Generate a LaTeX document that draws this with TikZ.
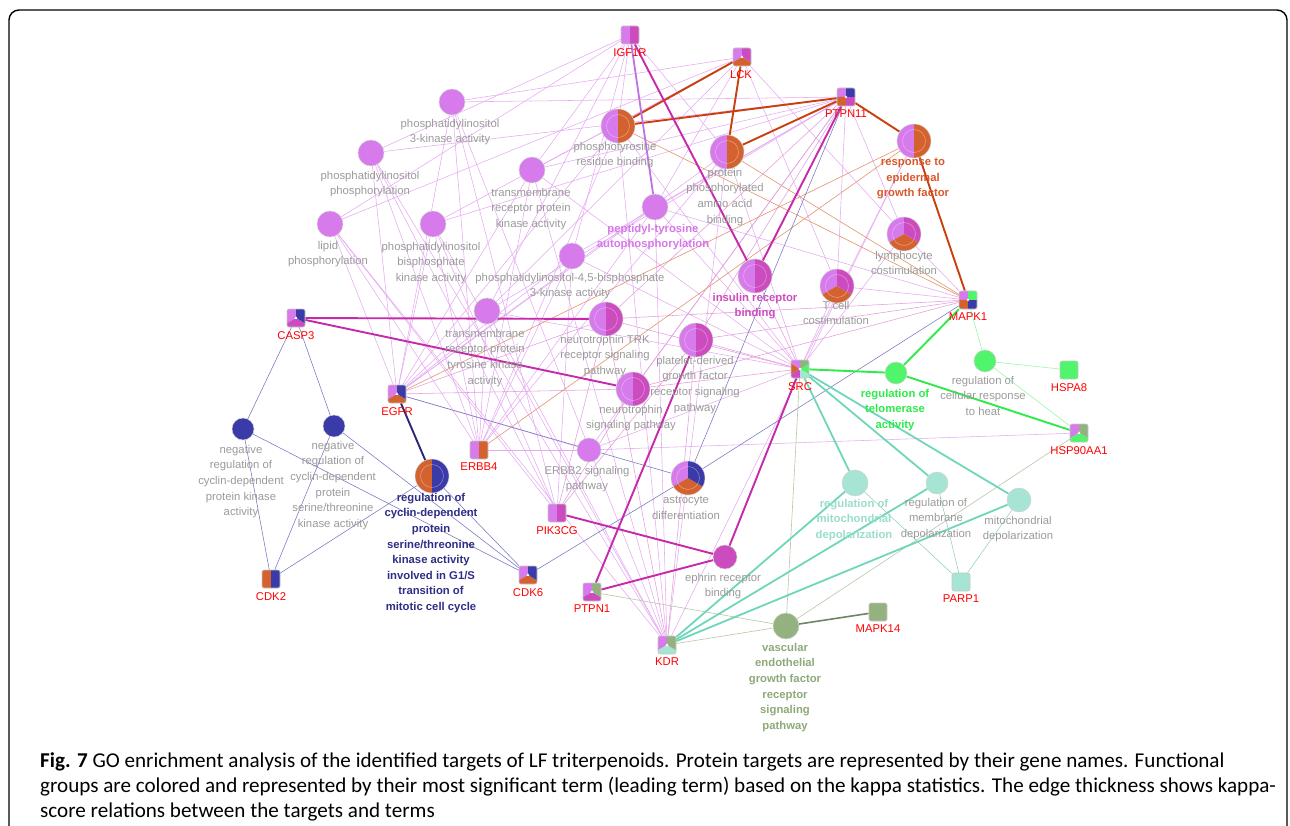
\documentclass[tikz,border=0pt]{standalone}
\usepackage{fontspec}
\setmainfont{Liberation Sans}
\newfontfamily\capfont{Carlito}
\usetikzlibrary{backgrounds}

\definecolor{purp}{HTML}{D77AEB}
\definecolor{magn}{HTML}{CC4CC0}
\definecolor{oran}{HTML}{D4622F}
\definecolor{blue}{HTML}{3A3AA8}
\definecolor{grn}{HTML}{50F56B}
\definecolor{olive}{HTML}{94B27F}
\definecolor{aqua}{HTML}{A6E5D3}
\definecolor{labgray}{HTML}{9A9A9A}
\definecolor{magthick}{HTML}{C42AAA}
\definecolor{grnthick}{HTML}{2EEA4A}
\definecolor{aqthick}{HTML}{70D6BA}
\definecolor{orthick}{HTML}{C8400E}

\tikzset{
  pie/.style 2 args={path picture={
      \foreach \c [count=\i] in {#2} {
        \pgfmathsetmacro\angA{90+(\i-1)*360/#1}
        \pgfmathsetmacro\angB{90+\i*360/#1}
        \fill[\c] (path picture bounding box.center) -- ++(\angA:40pt)
          arc[start angle=\angA, end angle=\angB, radius=40pt] -- cycle;
      }}},
  tpie/.style 2 args={path picture={
      \foreach \c [count=\i] in {#2} {
        \pgfmathsetmacro\angA{90+(\i-1)*360/#1}
        \pgfmathsetmacro\angB{90+\i*360/#1}
        \fill[\c] (path picture bounding box.center) -- ++(\angA:40pt)
          arc[start angle=\angA, end angle=\angB, radius=40pt] -- cycle;
      }
      \draw[white, opacity=.35, line width=.6pt] (path picture bounding box.center) circle[radius=11.5pt];}},
  term/.style={circle, draw=black!18, line width=.5pt, inner sep=0pt},
  gene/.style={rectangle, rounded corners=2pt, draw=black!22, line width=.6pt, minimum size=18pt, inner sep=0pt},
  tlab/.style={text=labgray, font=\fontsize{11.3}{15.6}\selectfont, align=center, inner sep=0pt, anchor=north},
  blab/.style={tlab, font=\bfseries\fontsize{11.3}{15.6}\selectfont},
  glab/.style={text=red, font=\fontsize{11.3}{13}\selectfont, inner sep=0pt, anchor=north},
  ethin/.style={draw=purp!65, line width=.55pt},
  epink/.style={draw=magn!55, line width=.55pt},
  eblue/.style={draw=blue!70, line width=.55pt},
  eorthin/.style={draw=oran!65, line width=.65pt},
  egrthin/.style={draw=grn!60, line width=.6pt},
  eaqthin/.style={draw=aqua!90!black, line width=.55pt},
  eolthin/.style={draw=olive!70, line width=.6pt},
  eorange/.style={draw=orthick, line width=1.9pt},
  emag/.style={draw=magthick, line width=1.9pt},
  epurple/.style={draw=purp!85!blue, line width=1.8pt},
  enavy/.style={draw=blue!70!black, line width=1.9pt},
  egreen/.style={draw=grnthick, line width=1.9pt},
  eaqua/.style={draw=aqthick, line width=1.8pt},
  eolive/.style={draw=olive!75!black, line width=1.6pt},
}

\begin{document}
\begin{tikzpicture}[x=1pt,y=1pt]
  \useasboundingbox (0,0) rectangle (1290,-826);
  \clip (0,0) rectangle (1290,-826);
  \draw[line width=1.4pt, rounded corners=10pt] (9,-10) rectangle (1287,-900);

  % term nodes
  \node[term, minimum size=26pt, fill=purp] (tPIK3act) at (452,-102) {};
  \node[term, minimum size=26pt, fill=purp] (tPIphos) at (371,-153) {};
  \node[term, minimum size=26pt, fill=purp] (tTMRPK) at (532,-170) {};
  \node[term, minimum size=26pt, fill=purp] (tLipid) at (330,-224) {};
  \node[term, minimum size=26pt, fill=purp] (tPIbis) at (433,-224) {};
  \node[term, minimum size=26pt, fill=purp] (tPI45) at (572,-256) {};
  \node[term, minimum size=34pt, tpie={2}{purp,oran}] (tPtyr) at (618,-126) {};
  \node[term, minimum size=34pt, tpie={2}{purp,oran}] (tPaa) at (727,-152) {};
  \node[term, minimum size=26pt, fill=purp] (tPeptyr) at (655,-207) {};
  \node[term, minimum size=34pt, tpie={2}{purp,oran}] (tEGFresp) at (914,-141) {};
  \node[term, minimum size=34pt, tpie={3}{purp,oran,magn}] (tLymph) at (904,-234) {};
  \node[term, minimum size=34pt, tpie={2}{purp,magn}] (tIRB) at (755,-276) {};
  \node[term, minimum size=34pt, tpie={3}{purp,oran,magn}] (tTcell) at (837,-286) {};
  \node[term, minimum size=26pt, fill=purp] (tTMRTK) at (487,-311) {};
  \node[term, minimum size=34pt, tpie={2}{purp,magn}] (tNTRK) at (606,-319) {};
  \node[term, minimum size=34pt, tpie={2}{purp,magn}] (tNeuro) at (633,-389) {};
  \node[term, minimum size=34pt, tpie={2}{purp,magn}] (tPDGF) at (696,-340) {};
  \node[term, minimum size=24pt, fill=purp] (tErbb2) at (589,-450) {};
  \node[term, minimum size=34pt, tpie={3}{purp,oran,blue}] (tAstro) at (688,-478) {};
  \node[term, minimum size=24pt, fill=magn] (tEphrin) at (725,-557) {};
  \node[term, minimum size=26pt, fill=olive] (tVEGF) at (786,-626) {};
  \node[term, minimum size=26pt, fill=aqua] (tMitoReg) at (855,-483) {};
  \node[term, minimum size=22pt, fill=aqua] (tMembDep) at (937,-483) {};
  \node[term, minimum size=24pt, fill=aqua] (tMitoDep) at (1019,-500) {};
  \node[term, minimum size=22pt, fill=grn] (tTelo) at (896,-373) {};
  \node[term, minimum size=22pt, fill=grn] (tHeat) at (985,-361) {};
  \node[term, minimum size=22pt, fill=blue] (tNegCDK) at (243,-429) {};
  \node[term, minimum size=22pt, fill=blue] (tNegCDKst) at (334,-426) {};
  \node[term, minimum size=34pt, tpie={2}{oran,blue}] (tCDKg1s) at (432,-476) {};

  % term labels
  \node[tlab] (lPIK3act) at (450,-119) {phosphatidylinositol\\3-kinase activity};
  \node[tlab] (lPIphos) at (370,-171) {phosphatidylinositol\\phosphorylation};
  \node[tlab] (lTMRPK) at (531,-188) {transmembrane\\receptor protein\\kinase activity};
  \node[tlab] (lLipid) at (328,-241) {lipid\\phosphorylation};
  \node[tlab] (lPIbis) at (431,-242) {phosphatidylinositol\\bisphosphate\\kinase activity};
  \node[tlab] (lPI45) at (570,-273) {phosphatidylinositol-4,5-bisphosphate\\3-kinase activity};
  \node[tlab] (lPtyr) at (615,-142) {phosphotyrosine\\residue binding};
  \node[tlab] (lPaa) at (725,-168) {protein\\phosphorylated\\amino acid\\binding};
  \node[blab, text=purp!95!magn] (lPeptyr) at (653,-224) {peptidyl-tyrosine\\autophosphorylation};
  \node[blab, text=oran!90!red] (lEGFresp) at (913,-158) {response to\\epidermal\\growth factor};
  \node[tlab] (lLymph) at (904,-251) {lymphocyte\\costimulation};
  \node[blab, text=magn] (lIRB) at (755,-293) {insulin receptor\\binding};
  \node[tlab] (lTcell) at (836,-301) {T cell\\costimulation};
  \node[tlab] (lTMRTK) at (485,-329) {transmembrane\\receptor protein\\tyrosine kinase\\activity};
  \node[tlab] (lNTRK) at (605,-335) {neurotrophin TRK\\receptor signaling\\pathway};
  \node[tlab] (lNeuro) at (631,-405) {neurotrophin\\signaling pathway};
  \node[tlab] (lPDGF) at (695,-356) {platelet-derived\\growth factor\\receptor signaling\\pathway};
  \node[tlab] (lErbb2) at (587,-466) {ERBB2 signaling\\pathway};
  \node[tlab] (lAstro) at (686,-496) {astrocyte\\differentiation};
  \node[tlab] (lEphrin) at (723,-573) {ephrin receptor\\binding};
  \node[blab, text=olive!95!black] (lVEGF) at (785,-643) {vascular\\endothelial\\growth factor\\receptor\\signaling\\pathway};
  \node[blab, text=aqua!92!teal] (lMitoReg) at (854,-499) {regulation of\\mitochondrial\\depolarization};
  \node[tlab] (lMembDep) at (936,-498) {regulation of\\membrane\\depolarization};
  \node[tlab] (lMitoDep) at (1018,-516) {mitochondrial\\depolarization};
  \node[blab, text=grnthick] (lTelo) at (895,-389) {regulation of\\telomerase\\activity};
  \node[tlab] (lHeat) at (983,-376) {regulation of\\cellular response\\to heat};
  \node[tlab] (lNegCDK) at (241,-445) {negative\\regulation of\\cyclin-dependent\\protein kinase\\activity};
  \node[tlab] (lNegCDKst) at (333,-441) {negative\\regulation of\\cyclin-dependent\\protein\\serine/threonine\\kinase activity};
  \node[blab, text=blue!80!black] (lCDKg1s) at (431,-493) {regulation of\\cyclin-dependent\\protein\\serine/threonine\\kinase activity\\involved in G1/S\\transition of\\mitotic cell cycle};

  % gene nodes
  \node[gene, pie={2}{purp,magn}] (gIGF1R) at (630,-35) {};
  \node[gene, pie={3}{purp,oran,magn}] (gLCK) at (742,-57) {};
  \node[gene, pie={4}{purp,oran,magn,blue}] (gPTPN11) at (846,-97) {};
  \node[gene, pie={4}{purp,oran,blue,grn}] (gMAPK1) at (968,-300) {};
  \node[gene, pie={3}{purp,magn,blue}] (gCASP3) at (296,-318) {};
  \node[gene, pie={3}{purp,oran,blue}] (gEGFR) at (397,-394) {};
  \node[gene, pie={2}{purp,oran}] (gERBB4) at (479,-450) {};
  \node[gene, pie={2}{purp,magn}] (gPIK3CG) at (557,-513) {};
  \node[gene, pie={2}{oran,blue}] (gCDK2) at (271,-579) {};
  \node[gene, pie={3}{purp,oran,blue}] (gCDK6) at (528,-575) {};
  \node[gene, pie={3}{purp,magn,olive}] (gPTPN1) at (592,-592) {};
  \node[gene, pie={3}{purp,aqua,olive}] (gKDR) at (667,-645) {};
  \node[gene, fill=olive] (gMAPK14) at (878,-612) {};
  \node[gene, pie={6}{purp,oran,magn,aqua,grn,olive}] (gSRC) at (800,-369) {};
  \node[gene, pie={3}{purp,grn,olive}] (gHSP90AA1) at (1079,-433) {};
  \node[gene, fill=grn] (gHSPA8) at (1069,-370) {};
  \node[gene, fill=aqua] (gPARP1) at (961,-582) {};

  % gene labels
  \node[glab] (nIGF1R) at (630,-48) {IGF1R};
  \node[glab] (nLCK) at (741,-70) {LCK};
  \node[glab] (nPTPN11) at (846,-110) {PTPN11};
  \node[glab] (nMAPK1) at (968,-313) {MAPK1};
  \node[glab] (nCASP3) at (296,-331) {CASP3};
  \node[glab] (nEGFR) at (397,-407) {EGFR};
  \node[glab] (nERBB4) at (479,-463) {ERBB4};
  \node[glab] (nPIK3CG) at (557,-526) {PIK3CG};
  \node[glab] (nCDK2) at (271,-592) {CDK2};
  \node[glab] (nCDK6) at (528,-588) {CDK6};
  \node[glab] (nPTPN1) at (592,-605) {PTPN1};
  \node[glab] (nKDR) at (667,-658) {KDR};
  \node[glab] (nMAPK14) at (878,-625) {MAPK14};
  \node[glab] (nSRC) at (800,-382) {SRC};
  \node[glab] (nHSP90AA1) at (1079,-446) {HSP90AA1};
  \node[glab] (nHSPA8) at (1069,-383) {HSPA8};
  \node[glab] (nPARP1) at (961,-595) {PARP1};

  % edges
  \begin{scope}[on background layer]
    \foreach \g in {LCK,PTPN11,EGFR,ERBB4,PIK3CG,KDR} \draw[ethin] (tPIK3act) -- (g\g);
    \foreach \g in {IGF1R,PTPN11,EGFR,ERBB4,PIK3CG,KDR} \draw[ethin] (tPIphos) -- (g\g);
    \foreach \g in {IGF1R,LCK,EGFR,ERBB4,PIK3CG,KDR} \draw[ethin] (tLipid) -- (g\g);
    \foreach \g in {LCK,PTPN11,EGFR,ERBB4,PIK3CG,KDR} \draw[ethin] (tPIbis) -- (g\g);
    \foreach \g in {IGF1R,PTPN11,EGFR,ERBB4,PIK3CG,SRC} \draw[ethin] (tPI45) -- (g\g);
    \foreach \g in {IGF1R,LCK,PTPN11,EGFR,ERBB4,KDR,SRC} \draw[ethin] (tTMRPK) -- (g\g);
    \foreach \g in {IGF1R,LCK,PTPN11,EGFR,ERBB4,KDR,SRC} \draw[ethin] (tTMRTK) -- (g\g);
    \foreach \g in {LCK,PTPN11,EGFR,ERBB4,KDR,SRC,MAPK1} \draw[ethin] (tPeptyr) -- (g\g);
    \foreach \g in {EGFR,ERBB4,PTPN11,SRC,HSP90AA1} \draw[ethin] (tErbb2) -- (g\g);
    \foreach \g in {IGF1R,EGFR,ERBB4,SRC,KDR} \draw[ethin] (tPtyr) -- (g\g);
    \foreach \g in {IGF1R,EGFR,ERBB4,SRC,KDR} \draw[ethin] (tPaa) -- (g\g);
    \foreach \g in {SRC,KDR} \draw[ethin] (tEGFresp) -- (g\g);
    \foreach \g in {LCK,PTPN11,SRC,MAPK1} \draw[ethin] (tLymph) -- (g\g);
    \foreach \g in {LCK,PTPN11,SRC,MAPK1} \draw[ethin] (tTcell) -- (g\g);
    \foreach \g in {SRC,PTPN11,MAPK1,KDR,PIK3CG,EGFR} \draw[epink] (tNTRK) -- (g\g);
    \foreach \g in {SRC,PTPN11,MAPK1,PIK3CG,EGFR} \draw[epink] (tNeuro) -- (g\g);
    \foreach \g in {SRC,PTPN11,PIK3CG,KDR,MAPK1} \draw[epink] (tPDGF) -- (g\g);
    \draw[epink] (tIRB) -- (gSRC);

    \draw[eorthin] (tPtyr) -- (gMAPK1);
    \draw[eorthin] (tPaa) -- (gMAPK1);
    \draw[eorthin] (tEGFresp) -- (gEGFR);
    \draw[eorthin] (tEGFresp) -- (gERBB4);

    \draw[eblue] (gCASP3) -- (tNegCDK);
    \draw[eblue] (gCASP3) -- (tNegCDKst);
    \foreach \t in {tNegCDK,tNegCDKst,tCDKg1s} {
      \draw[eblue] (\t) -- (gCDK2);
      \draw[eblue] (\t) -- (gCDK6);
    }
    \foreach \g in {CDK6,PTPN11,MAPK1,EGFR} \draw[eblue] (tAstro) -- (g\g);

    \draw[egrthin] (gMAPK1) -- (tHeat);
    \draw[egrthin] (tHeat) -- (gHSPA8);
    \draw[egrthin] (tHeat) -- (gHSP90AA1);
    \foreach \t in {tMitoReg,tMembDep,tMitoDep} \draw[eaqthin] (\t) -- (gPARP1);
    \foreach \g in {HSP90AA1,KDR,PTPN1,SRC} \draw[eolthin] (tVEGF) -- (g\g);

    \draw[eorange] (gLCK) -- (tPtyr);
    \draw[eorange] (gLCK) -- (tPaa);
    \draw[eorange] (gPTPN11) -- (tPtyr);
    \draw[eorange] (gPTPN11) -- (tPaa);
    \draw[eorange] (gPTPN11) -- (tEGFresp);
    \draw[eorange] (tEGFresp) -- (gMAPK1);
    \draw[epurple] (gIGF1R) -- (tPeptyr);
    \draw[emag] (gIGF1R) -- (tIRB);
    \draw[emag] (gPTPN11) -- (tIRB);
    \draw[emag] (gCASP3) -- (tNTRK);
    \draw[emag] (gCASP3) -- (tNeuro);
    \draw[emag] (tPDGF) -- (gPTPN1);
    \draw[emag] (gPIK3CG) -- (tEphrin);
    \draw[emag] (gPTPN1) -- (tEphrin);
    \draw[emag] (tEphrin) -- (gSRC);
    \draw[enavy] (gEGFR) -- (tCDKg1s);
    \draw[egreen] (gSRC) -- (tTelo);
    \draw[egreen] (tTelo) -- (gMAPK1);
    \draw[egreen] (tTelo) -- (gHSP90AA1);
    \foreach \t in {tMitoReg,tMembDep,tMitoDep} {
      \draw[eaqua] (gSRC) -- (\t);
      \draw[eaqua] (gKDR) -- (\t);
    }
    \draw[eolive] (tVEGF) -- (gMAPK14);
  \end{scope}

  % caption
  \node[anchor=base west, inner sep=0pt, font=\capfont\fontsize{21.1}{24}\selectfont] (cap1) at (40,-767)
    {\textbf{Fig. 7} GO enrichment analysis of the identified targets of LF triterpenoids. Protein targets are represented by their gene names. Functional};
  \node[anchor=base west, inner sep=0pt, font=\capfont\fontsize{21.1}{24}\selectfont] (cap2) at (40,-792)
    {groups are colored and represented by their most significant term (leading term) based on the kappa statistics. The edge thickness shows kappa-};
  \node[anchor=base west, inner sep=0pt, font=\capfont\fontsize{21.1}{24}\selectfont] (cap3) at (40,-817)
    {score relations between the targets and terms};
\end{tikzpicture}
\end{document}
